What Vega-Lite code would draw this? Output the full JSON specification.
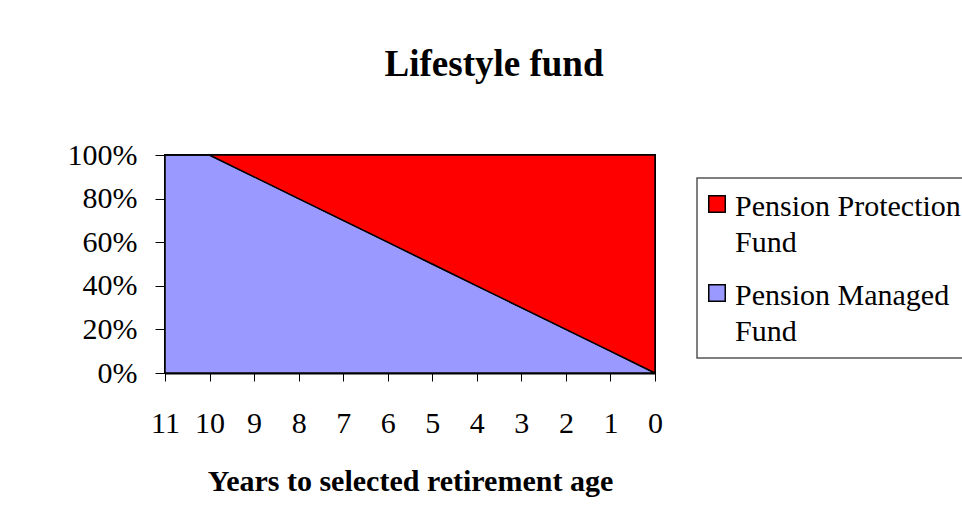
{
  "$schema": "https://vega.github.io/schema/vega-lite/v6.json",
  "width": 490,
  "height": 218,
  "autosize": {"type": "none"},
  "padding": {"left": 165, "top": 155, "right": 307, "bottom": 148},
  "background": "white",
  "title": {
    "text": "Lifestyle fund",
    "font": "Liberation Serif",
    "fontSize": 37,
    "fontWeight": "bold",
    "color": "black",
    "anchor": "middle",
    "frame": "group",
    "dx": 84,
    "offset": 27,
    "baseline": "alphabetic"
  },
  "data": {
    "values": [
      {"years": 11, "fund": "Pension Managed Fund", "share": 1.0},
      {"years": 10, "fund": "Pension Managed Fund", "share": 1.0},
      {"years": 9, "fund": "Pension Managed Fund", "share": 0.9},
      {"years": 8, "fund": "Pension Managed Fund", "share": 0.8},
      {"years": 7, "fund": "Pension Managed Fund", "share": 0.7},
      {"years": 6, "fund": "Pension Managed Fund", "share": 0.6},
      {"years": 5, "fund": "Pension Managed Fund", "share": 0.5},
      {"years": 4, "fund": "Pension Managed Fund", "share": 0.4},
      {"years": 3, "fund": "Pension Managed Fund", "share": 0.3},
      {"years": 2, "fund": "Pension Managed Fund", "share": 0.2},
      {"years": 1, "fund": "Pension Managed Fund", "share": 0.1},
      {"years": 0, "fund": "Pension Managed Fund", "share": 0.0},
      {"years": 11, "fund": "Pension Protection Fund", "share": 0.0},
      {"years": 10, "fund": "Pension Protection Fund", "share": 0.0},
      {"years": 9, "fund": "Pension Protection Fund", "share": 0.1},
      {"years": 8, "fund": "Pension Protection Fund", "share": 0.2},
      {"years": 7, "fund": "Pension Protection Fund", "share": 0.3},
      {"years": 6, "fund": "Pension Protection Fund", "share": 0.4},
      {"years": 5, "fund": "Pension Protection Fund", "share": 0.5},
      {"years": 4, "fund": "Pension Protection Fund", "share": 0.6},
      {"years": 3, "fund": "Pension Protection Fund", "share": 0.7},
      {"years": 2, "fund": "Pension Protection Fund", "share": 0.8},
      {"years": 1, "fund": "Pension Protection Fund", "share": 0.9},
      {"years": 0, "fund": "Pension Protection Fund", "share": 1.0}
    ]
  },
  "mark": {"type": "area", "stroke": "black", "strokeWidth": 1.5, "opacity": 1, "line": false},
  "encoding": {
    "x": {
      "field": "years",
      "type": "quantitative",
      "scale": {"domain": [0, 11], "reverse": true, "nice": false, "zero": false},
      "axis": {
        "title": "Years to selected retirement age",
        "values": [11, 10, 9, 8, 7, 6, 5, 4, 3, 2, 1, 0],
        "format": "d",
        "grid": false,
        "labelFont": "Liberation Serif",
        "labelFontSize": 30,
        "labelColor": "black",
        "labelPadding": 27,
        "labelFlush": false,
        "labelOverlap": false,
        "tickSize": 8,
        "tickColor": "black",
        "tickWidth": 1,
        "domainColor": "black",
        "domainWidth": 2,
        "titleFont": "Liberation Serif",
        "titleFontSize": 30,
        "titleFontWeight": "bold",
        "titleColor": "black",
        "titlePadding": 28
      }
    },
    "y": {
      "field": "share",
      "type": "quantitative",
      "stack": "zero",
      "scale": {"domain": [0, 1], "nice": false},
      "axis": {
        "title": null,
        "values": [0, 0.2, 0.4, 0.6, 0.8, 1],
        "format": ".0%",
        "grid": false,
        "labelFont": "Liberation Serif",
        "labelFontSize": 30,
        "labelColor": "black",
        "labelPadding": 18,
        "tickSize": 10,
        "tickColor": "black",
        "tickWidth": 1,
        "domainColor": "black",
        "domainWidth": 2
      }
    },
    "color": {
      "field": "fund",
      "type": "nominal",
      "scale": {
        "domain": ["Pension Protection Fund", "Pension Managed Fund"],
        "range": ["#FF0000", "#9999FF"]
      },
      "legend": {
        "title": null,
        "orient": "none",
        "legendX": 532,
        "legendY": 23,
        "direction": "vertical",
        "padding": 11,
        "strokeColor": "#555555",
        "fillColor": "white",
        "symbolType": "square",
        "symbolSize": 272,
        "symbolOffset": -6,
        "symbolStrokeColor": "black",
        "symbolStrokeWidth": 1.5,
        "symbolOpacity": 1,
        "labelFont": "Liberation Serif",
        "labelFontSize": 30,
        "labelColor": "black",
        "labelLimit": 0,
        "labelOffset": 3,
        "rowPadding": 20,
        "labelExpr": "datum.label == 'Pension Protection Fund' ? ['Pension Protection', 'Fund'] : ['Pension Managed', 'Fund']",
        "encode": {
          "labels": {
            "update": {
              "dy": {"value": 3},
              "lineHeight": {"value": 36},
              "font": {"value": "Liberation Serif"}
            }
          }
        }
      }
    },
    "order": {"field": "fund", "sort": "ascending"}
  },
  "config": {
    "view": {"stroke": "black", "strokeWidth": 2},
    "legend": {"strokeWidth": 1.5}
  }
}
